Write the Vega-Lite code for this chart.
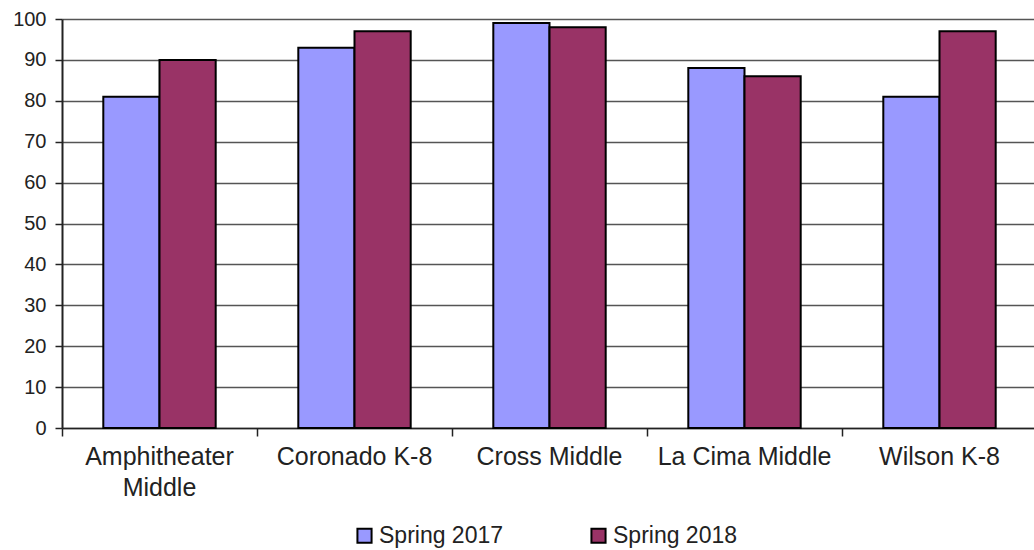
{
  "$schema": "https://vega.github.io/schema/vega-lite/v6.json",
  "autosize": {"type": "none"},
  "width": 975,
  "height": 409,
  "padding": {"left": 62, "top": 19, "right": 0, "bottom": 122},
  "background": "white",
  "data": {
    "values": [
      {"school": "Amphitheater Middle", "term": "Spring 2017", "value": 81},
      {"school": "Amphitheater Middle", "term": "Spring 2018", "value": 90},
      {"school": "Coronado K-8", "term": "Spring 2017", "value": 93},
      {"school": "Coronado K-8", "term": "Spring 2018", "value": 97},
      {"school": "Cross Middle", "term": "Spring 2017", "value": 99},
      {"school": "Cross Middle", "term": "Spring 2018", "value": 98},
      {"school": "La Cima Middle", "term": "Spring 2017", "value": 88},
      {"school": "La Cima Middle", "term": "Spring 2018", "value": 86},
      {"school": "Wilson K-8", "term": "Spring 2017", "value": 81},
      {"school": "Wilson K-8", "term": "Spring 2018", "value": 97}
    ]
  },
  "mark": {"type": "bar", "stroke": "black", "strokeWidth": 2},
  "encoding": {
    "x": {
      "field": "school",
      "type": "nominal",
      "sort": null,
      "title": null,
      "scale": {"paddingInner": 0, "paddingOuter": 0},
      "axis": {
        "labelAngle": 0,
        "labelFont": "Liberation Sans",
        "labelFontSize": 25,
        "labelColor": "#222",
        "labelPadding": 8,
        "labelLineHeight": 31,
        "labelBaseline": "top",
        "labelExpr": "datum.label == 'Amphitheater Middle' ? ['Amphitheater', 'Middle'] : datum.label",
        "bandPosition": 0,
        "tickSize": 8,
        "tickColor": "#222",
        "tickWidth": 1.5,
        "domainColor": "#222",
        "domainWidth": 1.5,
        "grid": false
      }
    },
    "xOffset": {
      "field": "term",
      "type": "nominal",
      "scale": {"paddingInner": 0, "paddingOuter": 0.735}
    },
    "y": {
      "field": "value",
      "type": "quantitative",
      "title": null,
      "scale": {"domain": [0, 100], "nice": false},
      "axis": {
        "values": [0, 10, 20, 30, 40, 50, 60, 70, 80, 90, 100],
        "labelFont": "Liberation Sans",
        "labelFontSize": 20,
        "labelColor": "#222",
        "labelPadding": 9,
        "tickSize": 7,
        "tickColor": "#222",
        "tickWidth": 1.5,
        "domainColor": "#222",
        "domainWidth": 2,
        "grid": true,
        "gridColor": "#555",
        "gridWidth": 1.5
      }
    },
    "color": {
      "field": "term",
      "type": "nominal",
      "title": null,
      "scale": {"domain": ["Spring 2017", "Spring 2018"], "range": ["#9999FF", "#993366"]},
      "legend": {
        "orient": "none",
        "direction": "horizontal",
        "legendX": 291,
        "legendY": 505,
        "symbolType": "square",
        "symbolSize": 200,
        "symbolStrokeColor": "black",
        "symbolStrokeWidth": 2,
        "symbolOpacity": 1,
        "labelFont": "Liberation Sans",
        "labelFontSize": 23,
        "labelColor": "#222",
        "labelOffset": 3,
        "columnPadding": 83
      }
    }
  },
  "config": {"view": {"stroke": null}}
}
